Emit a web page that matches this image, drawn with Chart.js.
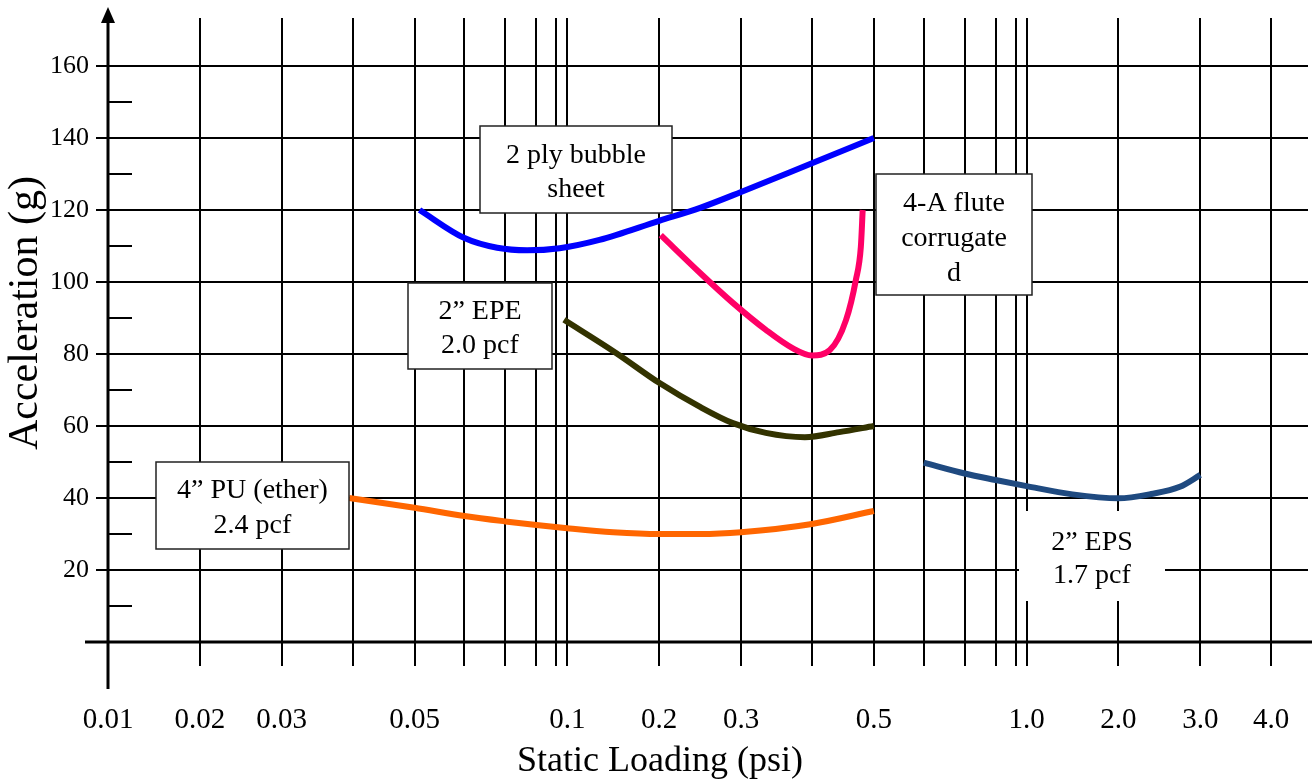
<!DOCTYPE html>
<html>
<head>
<meta charset="utf-8">
<title>Cushion curves - Acceleration vs Static Loading</title>
<script src="https://cdn.jsdelivr.net/npm/chart.js@4.4.1/dist/chart.umd.min.js"></script>
<style>
  html, body { margin: 0; padding: 0; background: #fff; }
  #wrap { width: 1312px; height: 781px; }
</style>
</head>
<body>
<div id="wrap"><canvas id="chart" width="1312" height="781"></canvas></div>
<script>
// curves (x in psi, y in g)
var bubblePsi = [0.051, 0.06, 0.068, 0.077, 0.093, 0.135, 0.2, 0.25, 0.3, 0.4, 0.5];
var bubbleG   = [120, 112.2, 109.5, 108.8, 109.4, 111.7, 117, 120.6, 125, 133, 140];

var flutePsi = [0.202, 0.25, 0.29, 0.335, 0.372, 0.4, 0.429, 0.455, 0.471, 0.479, 0.482];
var fluteG   = [113, 102.5, 94.2, 86.7, 81.7, 79.6, 81.1, 89.4, 100.6, 109.7, 120];

var epePsi = [0.097, 0.153, 0.2, 0.25, 0.29, 0.335, 0.39, 0.444, 0.5];
var epeG   = [89.5, 80.3, 72, 65.3, 60.8, 58.1, 56.9, 58.3, 60];

var puPsi = [0.0395, 0.05, 0.06, 0.07, 0.08, 0.1, 0.15, 0.2, 0.25, 0.3, 0.4, 0.5];
var puG   = [40, 37.3, 35, 33.5, 32.5, 31.6, 30.5, 30, 30, 30.5, 32.8, 36.4];

var epsPsi = [0.6, 0.7, 0.8, 1.0, 1.5, 2.0, 2.4, 2.75, 3.0];
var epsG   = [49.8, 46.8, 45, 43.3, 41, 39.9, 41.1, 43.1, 46.4];

// axis ticks
var xGridPsi = [0.01, 0.02, 0.03, 0.04, 0.05, 0.06, 0.07, 0.08, 0.09,
                0.1, 0.2, 0.3, 0.4, 0.5, 0.6, 0.7, 0.8, 0.9,
                1, 2, 3, 4];
var xLabelPsi  = [0.01, 0.02, 0.03, 0.05, 0.1, 0.2, 0.3, 0.5, 1, 2, 3, 4];
var xLabelText = ['0.01', '0.02', '0.03', '0.05', '0.1', '0.2', '0.3', '0.5', '1.0', '2.0', '3.0', '4.0'];
var yTicks      = [0, 20, 40, 60, 80, 100, 120, 140, 160];
var yMinorTicks = [10, 30, 50, 70, 90, 110, 130, 150];

// the graph paper is a hand drawn log scale: where 1..10 sit inside one decade
var DECADE = [0, 92, 174, 245, 307, 357, 398, 429, 449, 460];
function paper(p) {
    var e = Math.floor(Math.log10(p) + 1e-9);
    var m = p / Math.pow(10, e);
    var i = Math.min(Math.floor(m) - 1, 9);
    var f = m - Math.floor(m);
    var off = DECADE[i] + (i < 9 ? f * (DECADE[i + 1] - DECADE[i]) : 0);
    return (e + 2) + off / 460;
}
function series(psi, g) {
    return psi.map(function (p, i) { return { x: paper(p), y: g[i] }; });
}

var SERIF = '"Liberation Serif", "Times New Roman", serif';

var notes = [
    { lines: ['2 ply bubble', 'sheet'], box: [480, 126, 192, 87], base: [163, 197], cx: 576, border: true },
    { lines: ['4-A flute', 'corrugate', 'd'], box: [876, 174, 156, 121], base: [211, 246, 281], cx: 954, border: true },
    { lines: ['2\u201D EPE', '2.0 pcf'], box: [408, 283, 144, 86], base: [319, 353], cx: 480, border: true },
    { lines: ['4\u201D PU (ether)', '2.4 pcf'], box: [156, 462, 193, 87], base: [498, 533], cx: 252.5, border: true },
    { lines: ['2\u201D EPS', '1.7 pcf'], box: [1019, 511, 146, 90], base: [550, 583], cx: 1092, border: false }
];

var paperExtras = {
    id: 'paperExtras',
    beforeDatasetsDraw: function (chart) {
        var ctx = chart.ctx;
        var ys = chart.scales.y, xs = chart.scales.x;
        var ax = Math.round(xs.getPixelForValue(paper(0.01)));
        var ay = Math.round(ys.getPixelForValue(0));
        ctx.save();
        ctx.strokeStyle = '#000';
        ctx.fillStyle = '#000';
        ctx.lineWidth = 2;
        yMinorTicks.forEach(function (v) {
            var py = Math.round(ys.getPixelForValue(v));
            ctx.beginPath();
            ctx.moveTo(ax, py);
            ctx.lineTo(ax + 24, py);
            ctx.stroke();
        });
        ctx.lineWidth = 3;
        ctx.beginPath();
        ctx.moveTo(85, ay);
        ctx.lineTo(chart.width, ay);
        ctx.stroke();
        ctx.beginPath();
        ctx.moveTo(ax, 20);
        ctx.lineTo(ax, ay + 47);
        ctx.stroke();
        ctx.beginPath();
        ctx.moveTo(ax, 7);
        ctx.lineTo(ax - 7, 23);
        ctx.lineTo(ax + 7, 23);
        ctx.closePath();
        ctx.fill();
        ctx.restore();
    },
    afterDatasetsDraw: function (chart) {
        var ctx = chart.ctx;
        ctx.save();
        notes.forEach(function (n) {
            ctx.fillStyle = '#fff';
            ctx.fillRect(n.box[0], n.box[1], n.box[2], n.box[3]);
            if (n.border) {
                ctx.strokeStyle = '#222';
                ctx.lineWidth = 1.5;
                ctx.strokeRect(n.box[0], n.box[1], n.box[2], n.box[3]);
            }
            ctx.fillStyle = '#000';
            ctx.font = '28px ' + SERIF;
            ctx.textAlign = 'center';
            ctx.textBaseline = 'alphabetic';
            n.lines.forEach(function (t, i) { ctx.fillText(t, n.cx, n.base[i]); });
        });

        ctx.textAlign = 'center';
        ctx.textBaseline = 'middle';
        ctx.font = '36px ' + SERIF;
        ctx.fillText('Static Loading (psi)', 660, 762);

        ctx.font = '42px ' + SERIF;
        ctx.translate(26, 313);
        ctx.rotate(-Math.PI / 2);
        ctx.fillText('Acceleration (g)', 0, 0);
        ctx.restore();
    }
};

var line = function (psi, g, color) {
    return {
        data: series(psi, g),
        borderColor: color,
        borderWidth: 6,
        pointRadius: 0,
        fill: false,
        cubicInterpolationMode: 'monotone',
        borderCapStyle: 'butt'
    };
};

var ctx = document.getElementById('chart').getContext('2d');
var chart = new Chart(ctx, {
    type: 'line',
    data: {
        datasets: [
            line(bubblePsi, bubbleG, '#0000ff'),
            line(flutePsi, fluteG, '#ff0066'),
            line(epePsi, epeG, '#333300'),
            line(puPsi, puG, '#ff6600'),
            line(epsPsi, epsG, '#1f4a80')
        ]
    },
    options: {
        responsive: false,
        devicePixelRatio: 1,
        animation: false,
        events: [],
        layout: { padding: { top: 18, right: 4, left: 0, bottom: 0 } },
        plugins: { legend: { display: false }, tooltip: { enabled: false } },
        scales: {
            x: {
                type: 'linear',
                min: -12 / 459.3,
                max: 1200 / 459.3,
                border: { display: false },
                grid: { color: '#000', lineWidth: 2, drawTicks: true, tickLength: 24 },
                afterBuildTicks: function (s) {
                    s.ticks = xGridPsi.map(function (p) { return { value: paper(p) }; });
                },
                afterFit: function (s) {
                    s.height = 139;
                    s.paddingLeft = 0;
                    s.paddingRight = 0;
                },
                ticks: {
                    autoSkip: false,
                    maxRotation: 0,
                    minRotation: 0,
                    padding: 37,
                    color: '#000',
                    font: { family: SERIF, size: 29 },
                    callback: function (v, i) {
                        var k = xLabelPsi.indexOf(xGridPsi[i]);
                        return k >= 0 ? xLabelText[k] : '';
                    }
                }
            },
            y: {
                type: 'linear',
                min: 0,
                max: 624 / 3.6,
                border: { display: false },
                grid: {
                    drawTicks: false,
                    lineWidth: 2,
                    color: function (c) {
                        return (c.tick && c.tick.value > 0) ? '#000' : 'rgba(0,0,0,0)';
                    }
                },
                afterBuildTicks: function (s) {
                    s.ticks = yTicks.map(function (v) { return { value: v }; });
                },
                afterFit: function (s) {
                    s.width = 96;
                    s.paddingTop = 0;
                    s.paddingBottom = 0;
                },
                ticks: {
                    padding: 7,
                    color: '#000',
                    font: { family: SERIF, size: 26 },
                    callback: function (v) { return v > 0 ? String(v) : ''; }
                }
            }
        }
    },
    plugins: [paperExtras]
});
</script>
</body>
</html>
